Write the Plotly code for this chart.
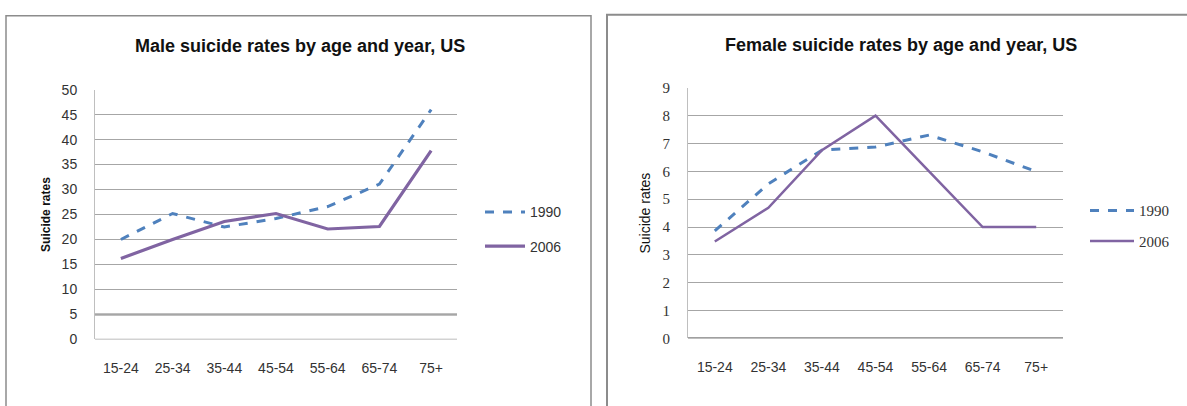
import plotly.graph_objects as go

age_groups = ["15-24", "25-34", "35-44", "45-54", "55-64", "65-74", "75+"]
male_1990 = [20.0, 25.2, 22.5, 24.2, 26.6, 31.1, 46.0]
male_2006 = [16.2, 20.0, 23.6, 25.2, 22.1, 22.6, 37.8]
female_1990 = [3.86, 5.55, 6.76, 6.87, 7.3, 6.7, 5.99]
female_2006 = [3.48, 4.69, 6.76, 8.0, 6.0, 4.0, 4.0]
series_names = ["1990", "2006"]

W, H = 1187, 406
BLUE = "#4F81BD"
PURPLE = "#8064A2"
GRID = "#A6A6A6"
FONT = "Liberation Sans, Arial, sans-serif"
SERIF = "Liberation Serif, serif"

def px(x):
    return x / W

def py(y):
    return 1 - y / H

fig = go.Figure()

# Male
fig.add_trace(go.Scatter(x=age_groups, y=male_1990, name=series_names[0], mode="lines",
                         line=dict(color=BLUE, width=3, dash="dash"), legendgroup="m1",
                         xaxis="x", yaxis="y", legend="legend"))
fig.add_trace(go.Scatter(x=age_groups, y=male_2006, name=series_names[1], mode="lines",
                         line=dict(color=PURPLE, width=3.2), legendgroup="m2",
                         xaxis="x", yaxis="y", legend="legend"))
# Female
fig.add_trace(go.Scatter(x=age_groups, y=female_1990, name=series_names[0], mode="lines",
                         line=dict(color=BLUE, width=3, dash="dash"), legendgroup="f1",
                         xaxis="x2", yaxis="y2", legend="legend2"))
fig.add_trace(go.Scatter(x=age_groups, y=female_2006, name=series_names[1], mode="lines",
                         line=dict(color=PURPLE, width=2.5), legendgroup="f2",
                         xaxis="x2", yaxis="y2", legend="legend2"))

tickfont = dict(family=FONT, size=14, color="#333333")

fig.update_layout(
    width=W, height=H,
    margin=dict(l=0, r=0, t=0, b=0),
    paper_bgcolor="white", plot_bgcolor="white",
    xaxis=dict(domain=[px(95), px(457)], type="category", range=[-0.5, 6.5],
               showgrid=False, zeroline=False, showline=False,
               ticks="outside", ticklen=16, tickcolor="rgba(0,0,0,0)",
               tickfont=tickfont, anchor="y", fixedrange=True),
    yaxis=dict(domain=[py(345), py(85)], range=[0, 50], dtick=5,
               showgrid=True, gridcolor=GRID, gridwidth=1,
               zeroline=False, showline=True, linecolor="#BFBFBF", linewidth=1,
               ticks="outside", ticklen=14, tickcolor="rgba(0,0,0,0)",
               tickfont=tickfont, anchor="x",
               title=dict(text="<b>Suicide rates</b>", font=dict(family=FONT, size=12, color="#111"),
                          standoff=8)),
    xaxis2=dict(domain=[px(688), px(1063)], type="category", range=[-0.5, 6.5],
                showgrid=False, zeroline=False, showline=False,
                ticks="outside", ticklen=16, tickcolor="rgba(0,0,0,0)",
                tickfont=tickfont, anchor="y2", fixedrange=True),
    yaxis2=dict(domain=[py(344), py(83)], range=[0, 9], dtick=1,
                showgrid=True, gridcolor=GRID, gridwidth=1,
                zeroline=False, showline=True, linecolor="#BFBFBF", linewidth=1,
                ticks="outside", ticklen=14, tickcolor="rgba(0,0,0,0)",
                tickfont=dict(family=SERIF, size=15, color="#333333"),
                anchor="x2",
                title=dict(text="Suicide rates", font=dict(family=FONT, size=14, color="#111"),
                           standoff=8)),
    legend=dict(x=px(480), y=py(196), xanchor="left", yanchor="top",
                font=dict(family=FONT, size=14, color="#333"), traceorder="grouped",
                bgcolor="rgba(0,0,0,0)", tracegroupgap=13, itemwidth=40),
    legend2=dict(x=px(1085), y=py(194), xanchor="left", yanchor="top",
                 font=dict(family=SERIF, size=15, color="#333"), traceorder="grouped",
                 bgcolor="rgba(0,0,0,0)", tracegroupgap=8, itemwidth=44),
    showlegend=True,
)

# Titles
fig.add_annotation(text="<b>Male suicide rates by age and year, US</b>", x=px(300), y=py(40),
                   xref="paper", yref="paper", showarrow=False, xanchor="center", yanchor="middle",
                   font=dict(family=FONT, size=18, color="#111"))
fig.add_annotation(text="<b>Female suicide rates by age and year, US</b>", x=px(901), y=py(38),
                   xref="paper", yref="paper", showarrow=False, xanchor="center", yanchor="middle",
                   font=dict(family=FONT, size=18, color="#111"))

shapes = []
# panel borders
shapes.append(dict(type="rect", xref="paper", yref="paper", x0=px(6), x1=px(591), y0=py(420), y1=py(8),
                   line=dict(color="#8C8C8C", width=1.5), layer="below"))
shapes.append(dict(type="rect", xref="paper", yref="paper", x0=px(607), x1=px(1200), y0=py(420), y1=py(7),
                   line=dict(color="#8C8C8C", width=2), layer="below"))
# male axis baseline and darker line at 5
shapes.append(dict(type="line", xref="x domain", yref="y", x0=0, x1=1, y0=0, y1=0,
                   line=dict(color="#A6A6A6", width=1.5)))
shapes.append(dict(type="line", xref="x domain", yref="y", x0=0, x1=1, y0=5, y1=5,
                   line=dict(color="#808080", width=2), layer="below"))
# female axis baseline
shapes.append(dict(type="line", xref="x2 domain", yref="y2", x0=0, x1=1, y0=0, y1=0,
                   line=dict(color="#808080", width=2.5)))
fig.update_layout(shapes=shapes)

fig.write_html("out.html")
